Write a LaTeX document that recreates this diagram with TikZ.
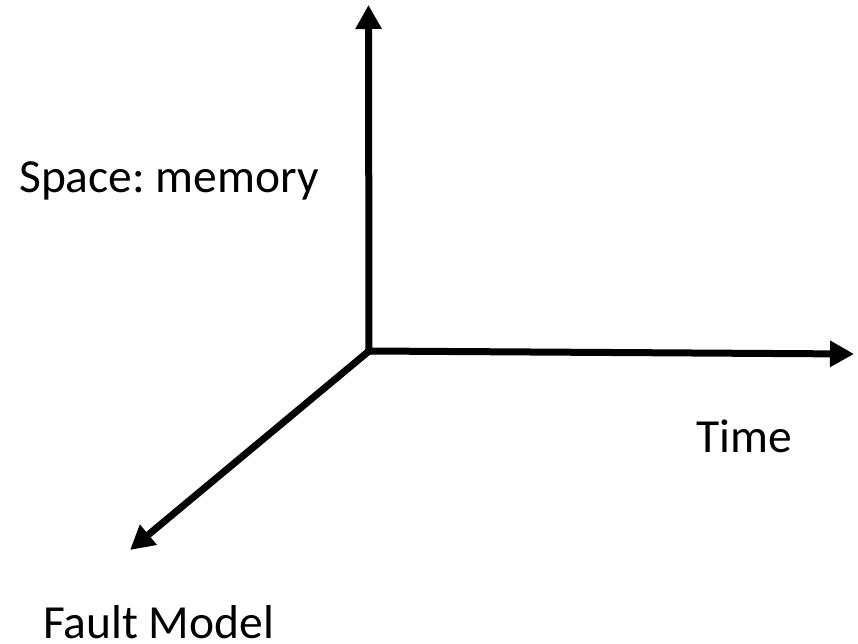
\documentclass[tikz,border=0pt]{standalone}
\usepackage{fontspec}
\setmainfont{Carlito}
\usetikzlibrary{arrows.meta}
\begin{document}
\begin{tikzpicture}[x=1pt,y=-1pt,
  axis/.style={line width=7pt,-{Triangle[length=24pt,width=25pt]}},
  lbl/.style={font=\fontsize{47.5}{56}\selectfont,anchor=base west,inner sep=0pt,text depth=0pt}]
\useasboundingbox (0,0) rectangle (858,644);
\frenchspacing
\coordinate (o) at (369,351);
\coordinate (up) at (368.5,5);
\coordinate (right) at (854,354);
\coordinate (dl) at (130,550);
\draw[axis] ([yshift=-3.5pt]o) -- (up);
\draw[axis] (o) -- (right);
\draw[axis] (o) -- (dl);
\node[lbl] (space) at (19,193) {Space: memory};
\node[lbl] (time) at (696,452) {Time};
\node[lbl] (fault) at (43,638) {Fault Model};
\end{tikzpicture}
\end{document}
